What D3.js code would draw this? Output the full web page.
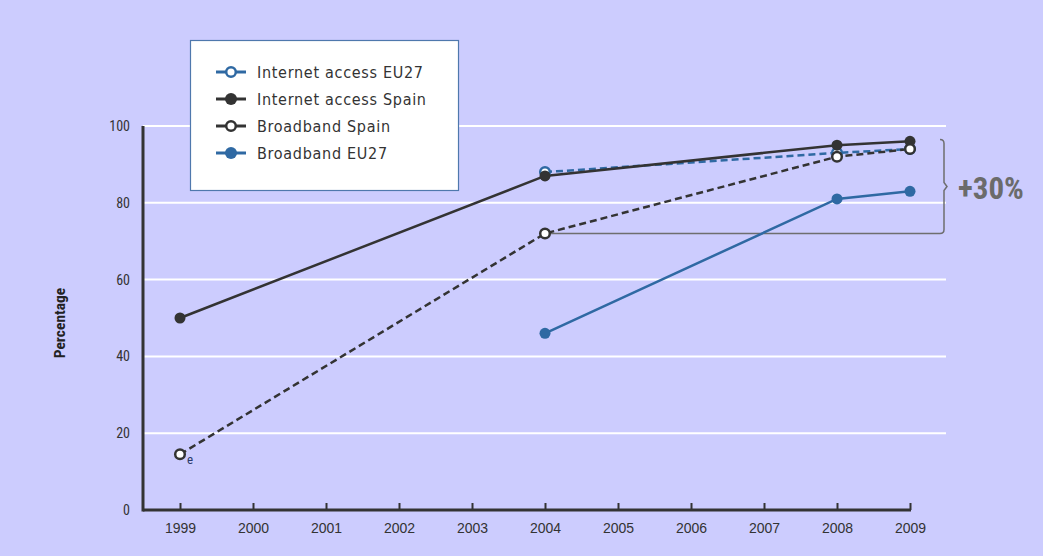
<!DOCTYPE html>
<html>
<head>
<meta charset="utf-8">
<script src="https://cdn.jsdelivr.net/npm/d3@7"></script>
<style>
  html, body { margin: 0; padding: 0; background: #ccccfe; }
  svg { display: block; }
  text { font-family: "Liberation Sans Narrow", "Arial Narrow", "Roboto Condensed", sans-serif; }
</style>
</head>
<body>
<svg id="chart" width="1043" height="556"></svg>
<script>
const years = [1999, 2000, 2001, 2002, 2003, 2004, 2005, 2006, 2007, 2008, 2009];
const yTicks = [0, 20, 40, 60, 80, 100];

const internetEU27Years = [2004, 2008, 2009];
const internetEU27Values = [88, 93, 94];
const internetSpainYears = [1999, 2004, 2008, 2009];
const internetSpainValues = [50, 87, 95, 96];
const broadbandSpainYears = [1999, 2004, 2008, 2009];
const broadbandSpainValues = [14.5, 72, 92, 94];
const broadbandEU27Years = [2004, 2008, 2009];
const broadbandEU27Values = [46, 81, 83];

const seriesNames = ["Internet access EU27", "Internet access Spain", "Broadband Spain", "Broadband EU27"];
const bracketLabel = "+30%";
const estimateNote = "e";
const yTitle = "Percentage";

const BLUE = "#2f69a3", DARK = "#333333";

const series = [
  { name: seriesNames[0], years: internetEU27Years, values: internetEU27Values, color: BLUE, dashed: true, filled: false },
  { name: seriesNames[1], years: internetSpainYears, values: internetSpainValues, color: DARK, dashed: false, filled: true },
  { name: seriesNames[2], years: broadbandSpainYears, values: broadbandSpainValues, color: DARK, dashed: true, filled: false },
  { name: seriesNames[3], years: broadbandEU27Years, values: broadbandEU27Values, color: BLUE, dashed: false, filled: true }
];

const svg = d3.select("#chart");
const x = d3.scaleLinear().domain([1999, 2009]).range([180, 910]);
const y = d3.scaleLinear().domain([0, 100]).range([510, 126]);
const axisLeftX = 143;

// gridlines
svg.append("g").selectAll("line").data(yTicks.filter(d => d > 0)).join("line")
  .attr("x1", axisLeftX).attr("x2", 946)
  .attr("y1", d => y(d)).attr("y2", d => y(d))
  .attr("stroke", "#ffffff").attr("stroke-width", 2);

// y tick labels
svg.append("g").selectAll("text").data(yTicks).join("text")
  .attr("x", 130).attr("y", d => y(d)).attr("dy", "0.35em")
  .attr("text-anchor", "end").attr("font-size", 14).attr("fill", "#333")
  .text(d => d);

// x axis
const xAxis = d3.axisBottom(x).tickValues(years).tickFormat(d3.format("d")).tickSize(-7).tickPadding(13);
const gx = svg.append("g").attr("transform", `translate(0,510)`).call(xAxis);
gx.select(".domain").remove();
gx.selectAll(".tick line").attr("stroke", DARK).attr("stroke-width", 2);
gx.selectAll(".tick text").attr("font-size", 14).attr("fill", "#333")
  .style("font-family", "'Liberation Sans Narrow', 'Arial Narrow', sans-serif");
svg.append("line").attr("x1", axisLeftX).attr("x2", x(2009) + 1).attr("y1", 510).attr("y2", 510)
  .attr("stroke", DARK).attr("stroke-width", 3);
svg.append("line").attr("x1", axisLeftX).attr("x2", axisLeftX).attr("y1", y(100)).attr("y2", 511.5)
  .attr("stroke", DARK).attr("stroke-width", 3);

// y title
svg.append("text").attr("transform", `translate(65,${y(50) + 5}) rotate(-90)`)
  .attr("text-anchor", "middle").attr("font-size", 15.5).attr("font-weight", "bold").attr("fill", "#222")
  .text(yTitle);

// bracket
const by0 = y(broadbandSpainValues[1]);
const bTop = y(96.5);
const bx = 944;
svg.append("path")
  .attr("d", `M${x(2004)},${by0} H${bx - 4} Q${bx},${by0} ${bx},${by0 - 4} V${(by0 + bTop) / 2 + 4} L${bx + 3},${(by0 + bTop) / 2} L${bx},${(by0 + bTop) / 2 - 4} V${bTop + 4} Q${bx},${bTop} ${bx - 4},${bTop}`)
  .attr("fill", "none").attr("stroke", "#6e6e6e").attr("stroke-width", 1.5);
svg.append("text").attr("x", 958).attr("y", (by0 + bTop) / 2 + 1).attr("dy", "0.36em")
  .attr("font-size", 31).attr("font-weight", "bold").attr("fill", "#6b6b6b")
  .text(bracketLabel);

// lines
const line = d3.line().x(d => x(d[0])).y(d => y(d[1]));
series.forEach(s => {
  const pts = s.years.map((yr, i) => [yr, s.values[i]]);
  svg.append("path").datum(pts).attr("d", line)
    .attr("fill", "none").attr("stroke", s.color).attr("stroke-width", 2.5)
    .attr("stroke-dasharray", s.dashed ? "7,4" : null);
  s.pts = pts;
});
series.forEach(s => {
  svg.append("g").selectAll("circle").data(s.pts).join("circle")
    .attr("cx", d => x(d[0])).attr("cy", d => y(d[1])).attr("r", s.filled ? 5.5 : 4.8)
    .attr("fill", s.filled ? s.color : "#ffffff")
    .attr("stroke", s.color).attr("stroke-width", s.filled ? 0 : 2.5);
});

// estimate note
svg.append("text").attr("x", x(1999) + 7).attr("y", y(broadbandSpainValues[0]) + 10)
  .attr("font-size", 13).attr("fill", "#2a3a6a").text(estimateNote);

// legend
const lg = svg.append("g");
lg.append("rect").attr("x", 190.5).attr("y", 40.5).attr("width", 268).attr("height", 150)
  .attr("fill", "#ffffff").attr("stroke", "#4f78ad").attr("stroke-width", 1.2);
series.forEach((s, i) => {
  const ly = 72 + i * 27;
  lg.append("line").attr("x1", 216).attr("x2", 246).attr("y1", ly).attr("y2", ly)
    .attr("stroke", s.color).attr("stroke-width", 3);
  lg.append("circle").attr("cx", 231).attr("cy", ly).attr("r", s.filled ? 6 : 4.8)
    .attr("fill", s.filled ? s.color : "#fff").attr("stroke", s.color).attr("stroke-width", s.filled ? 0 : 2.5);
  lg.append("text").attr("x", 257).attr("y", ly).attr("dy", "0.36em")
    .attr("font-size", 16).attr("fill", "#333").attr("letter-spacing", 0.7)
    .style("font-family", "'DejaVu Sans Condensed', 'Liberation Sans Narrow', sans-serif")
    .text(s.name);
});
</script>
</body>
</html>
